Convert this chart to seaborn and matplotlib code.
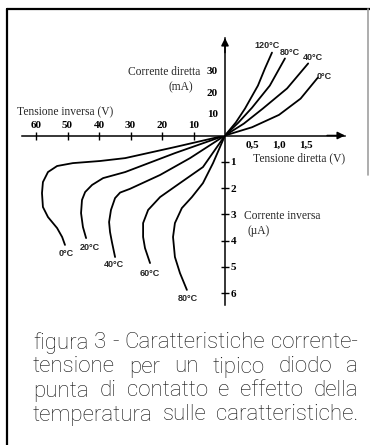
import matplotlib
matplotlib.use("Agg")
import matplotlib.pyplot as plt
import numpy as np
import pandas as pd
import seaborn as sns
from matplotlib.lines import Line2D

# ---------------- data ----------------
# forward characteristic: voltage (V) vs current (mA)
fwd_labels = ["0°C", "40°C", "80°C", "120°C"]
fwd_v_0 = [0, 0.50, 1.00, 1.40, 1.72]
fwd_i_0 = [0, 3.8, 9.5, 17.0, 26.7]
fwd_v_40 = [0, 0.35, 0.70, 1.15, 1.54]
fwd_i_40 = [0, 5.5, 12.4, 21.7, 33.2]
fwd_v_80 = [0, 0.25, 0.50, 0.83, 1.11]
fwd_i_80 = [0, 6.0, 12.8, 23.0, 35.5]
fwd_v_120 = [0, 0.20, 0.37, 0.61, 0.74, 0.87]
fwd_i_120 = [0, 6.0, 12.4, 23.0, 30.9, 38.2]
fwd_label_v = [1.83, 1.63, 1.20, 0.78]
fwd_label_i = [27.2, 36.0, 38.2, 41.5]

# reverse characteristic: reverse voltage (V) vs reverse current (uA)
rev_labels = ["0°C", "20°C", "40°C", "60°C", "80°C"]
rev_v_0 = [0, 15.9, 31.7, 39.7, 48.3, 53.3, 56.2, 57.8, 58.1, 57.8, 56.2, 53.3, 51.7, 50.8]
rev_i_0 = [0, 0.44, 0.86, 0.97, 1.05, 1.16, 1.39, 1.77, 2.19, 2.72, 3.10, 3.52, 3.86, 4.16]
rev_v_20 = [0, 15.9, 31.7, 38.7, 42.2, 44.4, 45.4, 45.7, 45.1, 44.1]
rev_i_20 = [0, 0.67, 1.39, 1.62, 1.88, 2.15, 2.45, 2.95, 3.48, 3.90]
rev_v_40 = [0, 11.1, 20.6, 30.2, 33.3, 34.9, 36.2, 36.8, 36.5, 35.9, 34.9]
rev_i_40 = [0, 0.86, 1.50, 2.03, 2.17, 2.38, 2.83, 3.29, 3.67, 4.05, 4.62]
rev_v_60 = [0, 7.0, 14.3, 20.6, 24.4, 26.0, 26.0, 25.4, 23.8]
rev_i_60 = [0, 1.20, 1.81, 2.34, 2.83, 3.33, 3.86, 4.28, 4.85]
rev_v_80 = [0, 3.8, 7.0, 10.5, 13.7, 15.9, 16.5, 15.9, 14.3, 12.1]
rev_i_80 = [0, 1.05, 1.81, 2.34, 2.76, 3.33, 3.86, 4.62, 5.23, 5.87]
rev_label_v = [50.5, 42.9, 35.2, 23.8, 11.7]
rev_label_i = [4.47, 4.24, 4.89, 5.23, 6.18]

fwd_xticks = [0.5, 1.0, 1.5]
fwd_xticklabels = ["0,5", "1,0", "1,5"]
fwd_yticks = [10, 20, 30]
rev_xticks = [10, 20, 30, 40, 50, 60]
rev_yticks = [1, 2, 3, 4, 5, 6]

caption_lines = [
    "figura 3 - Caratteristiche corrente-",
    "tensione per un tipico diodo a",
    "punta di contatto e effetto della",
    "temperatura sulle caratteristiche.",
]

# ---------------- tables ----------------
fwd_df = pd.concat([
    pd.DataFrame({"V": v, "I": i, "T": t})
    for v, i, t in zip([fwd_v_0, fwd_v_40, fwd_v_80, fwd_v_120],
                       [fwd_i_0, fwd_i_40, fwd_i_80, fwd_i_120], fwd_labels)
], ignore_index=True)
rev_df = pd.concat([
    pd.DataFrame({"V": v, "I": i, "T": t})
    for v, i, t in zip([rev_v_0, rev_v_20, rev_v_40, rev_v_60, rev_v_80],
                       [rev_i_0, rev_i_20, rev_i_40, rev_i_60, rev_i_80], rev_labels)
], ignore_index=True)

# ---------------- figure ----------------
sns.set_theme(style="white")
plt.rcParams["font.family"] = ["Liberation Serif", "DejaVu Serif"]

W, H = 370, 445
fig = plt.figure(figsize=(W / 100, H / 100), dpi=100)
fig.patch.set_facecolor("white")


def box(x0, y0, x1, y1):
    return [x0 / W, 1 - y1 / H, (x1 - x0) / W, (y1 - y0) / H]


def px(x, y):
    return x / W, 1 - y / H


# origin of the diagram and pixel scales of each half-axis
OX, OY = 225, 135.5
FX, FY = 54.0, 2.17      # px per V, px per mA (forward)
RX, RY = 3.15, 26.3      # px per V, px per uA (reverse)
X_RIGHT, Y_TOP, X_LEFT, Y_BOTTOM = 345, 38, 22, 305

ax_f = fig.add_axes(box(OX, Y_TOP, X_RIGHT, OY))
ax_r = fig.add_axes(box(X_LEFT, OY, OX, Y_BOTTOM))
for ax in (ax_f, ax_r):
    ax.set_facecolor("none")
    ax.grid(False)

LW = 1.1
sns.lineplot(data=fwd_df, x="V", y="I", hue="T", palette=["black"] * 4,
             sort=False, estimator=None, legend=False, lw=1.3, ax=ax_f)
sns.lineplot(data=rev_df, x="V", y="I", hue="T", palette=["black"] * 5,
             sort=False, estimator=None, legend=False, lw=1.3, ax=ax_r)

ax_f.set_xlim(0, (X_RIGHT - OX) / FX)
ax_f.set_ylim(0, (OY - Y_TOP) / FY)
ax_r.set_xlim((OX - X_LEFT) / RX, 0)
ax_r.set_ylim((Y_BOTTOM - OY) / RY, 0)

for s in ("top", "right"):
    ax_f.spines[s].set_visible(False)
for s in ("bottom", "left"):
    ax_r.spines[s].set_visible(False)
for ax, names in ((ax_f, ("bottom", "left")), (ax_r, ("top", "right"))):
    for s in names:
        ax.spines[s].set_color("black")
        ax.spines[s].set_linewidth(LW)

ax_f.set_xlabel("")
ax_f.set_ylabel("")
ax_r.set_xlabel("")
ax_r.set_ylabel("")

tick_kw = dict(direction="inout", length=6, width=1.0, colors="black", labelsize=8)
ax_f.set_xticks(fwd_xticks, fwd_xticklabels)
ax_f.set_yticks(fwd_yticks, [str(t) for t in fwd_yticks])
ax_f.tick_params(axis="x", pad=1, **tick_kw)
ax_f.tick_params(axis="y", pad=2, **tick_kw)

ax_r.xaxis.tick_top()
ax_r.yaxis.tick_right()
ax_r.set_xticks(rev_xticks, [str(t) for t in rev_xticks])
ax_r.set_yticks(rev_yticks, [str(t) for t in rev_yticks])
ax_r.tick_params(axis="x", pad=1, **tick_kw)
ax_r.tick_params(axis="y", pad=1, **tick_kw)
ax_r.tick_params(axis="x", which="both", bottom=False, labelbottom=False)
ax_r.tick_params(axis="y", which="both", left=False, labelleft=False)

for lab in ax_f.get_xticklabels() + ax_f.get_yticklabels() + \
        ax_r.get_xticklabels() + ax_r.get_yticklabels():
    lab.set_fontweight("bold")

# arrow heads on the forward axes
arrow = dict(arrowstyle="-|>", color="black", lw=LW, mutation_scale=11,
             shrinkA=0, shrinkB=0)
ax_f.annotate("", xy=(1.0, 0), xytext=(0.85, 0), xycoords="axes fraction",
              arrowprops=arrow, annotation_clip=False)
ax_f.annotate("", xy=(0, 1.0), xytext=(0, 0.85), xycoords="axes fraction",
              arrowprops=arrow, annotation_clip=False)

# temperature labels
temp_font = dict(family=["Liberation Sans Narrow", "Liberation Sans", "DejaVu Sans"],
                 fontsize=6.5, fontweight="bold", ha="center", va="center")
for v, i, t in zip(fwd_label_v, fwd_label_i, fwd_labels):
    ax_f.text(v, i, t, clip_on=False, **temp_font)
for v, i, t in zip(rev_label_v, rev_label_i, rev_labels):
    ax_r.text(v, i, t, clip_on=False, **temp_font)

# axis titles
lab_kw = dict(fontsize=8.3, va="center")
fig.text(*px(17, 112), "Tensione inversa (V)", ha="left", **lab_kw)
fig.text(*px(200, 72), "Corrente diretta", ha="right", **lab_kw)
fig.text(*px(181, 87), "(mA)", ha="center", **lab_kw)
fig.text(*px(253, 158), "Tensione diretta (V)", ha="left", **lab_kw)
fig.text(*px(244, 216), "Corrente inversa", ha="left", **lab_kw)
fig.text(*px(248, 231), "(µA)", ha="left", **lab_kw)

# frame of the figure box
fig.add_artist(Line2D([7 / W, 7 / W], [1 - 9 / H, 0], color="black", lw=1.6,
                      transform=fig.transFigure))
fig.add_artist(Line2D([7 / W, 1], [1 - 9 / H, 1 - 9 / H], color="black", lw=1.6,
                      transform=fig.transFigure))
fig.add_artist(Line2D([368 / W, 368 / W], [1 - 9 / H, 1 - 175 / H], color="#a0a0a0",
                      lw=1.2, transform=fig.transFigure))

# justified caption, font size chosen so the tightest line just fits
CAP_L, CAP_R = 33, 358
cap_y = [343, 367, 391, 415]
cap_family = ["Roboto", "Liberation Sans", "DejaVu Sans"]
renderer = fig.canvas.get_renderer()
probe_size = 10.0
min_gap = 0.28  # fraction of the font size in px
need = []
for line in caption_lines:
    words = line.split(" ")
    probes = [fig.text(0, 0, w, family=cap_family, fontsize=probe_size,
                       fontweight="light") for w in words]
    tot = sum(t.get_window_extent(renderer).width for t in probes)
    for t in probes:
        t.remove()
    need.append((tot + (len(words) - 1) * min_gap * probe_size * 100 / 72) / probe_size)
cap_size = (CAP_R - CAP_L) / max(need)

cap_font = dict(family=cap_family, fontsize=cap_size, fontweight="light",
                color="#111111", va="center", ha="left")
for line, yy in zip(caption_lines, cap_y):
    words = line.split(" ")
    texts = [fig.text(0, 1 - yy / H, w, **cap_font) for w in words]
    widths = [t.get_window_extent(renderer).width for t in texts]
    gap = (CAP_R - CAP_L - sum(widths)) / max(len(words) - 1, 1)
    x = CAP_L
    for t, w in zip(texts, widths):
        t.set_x(x / W)
        x += w + gap

fig.savefig("out.png", dpi=100, facecolor="white")
